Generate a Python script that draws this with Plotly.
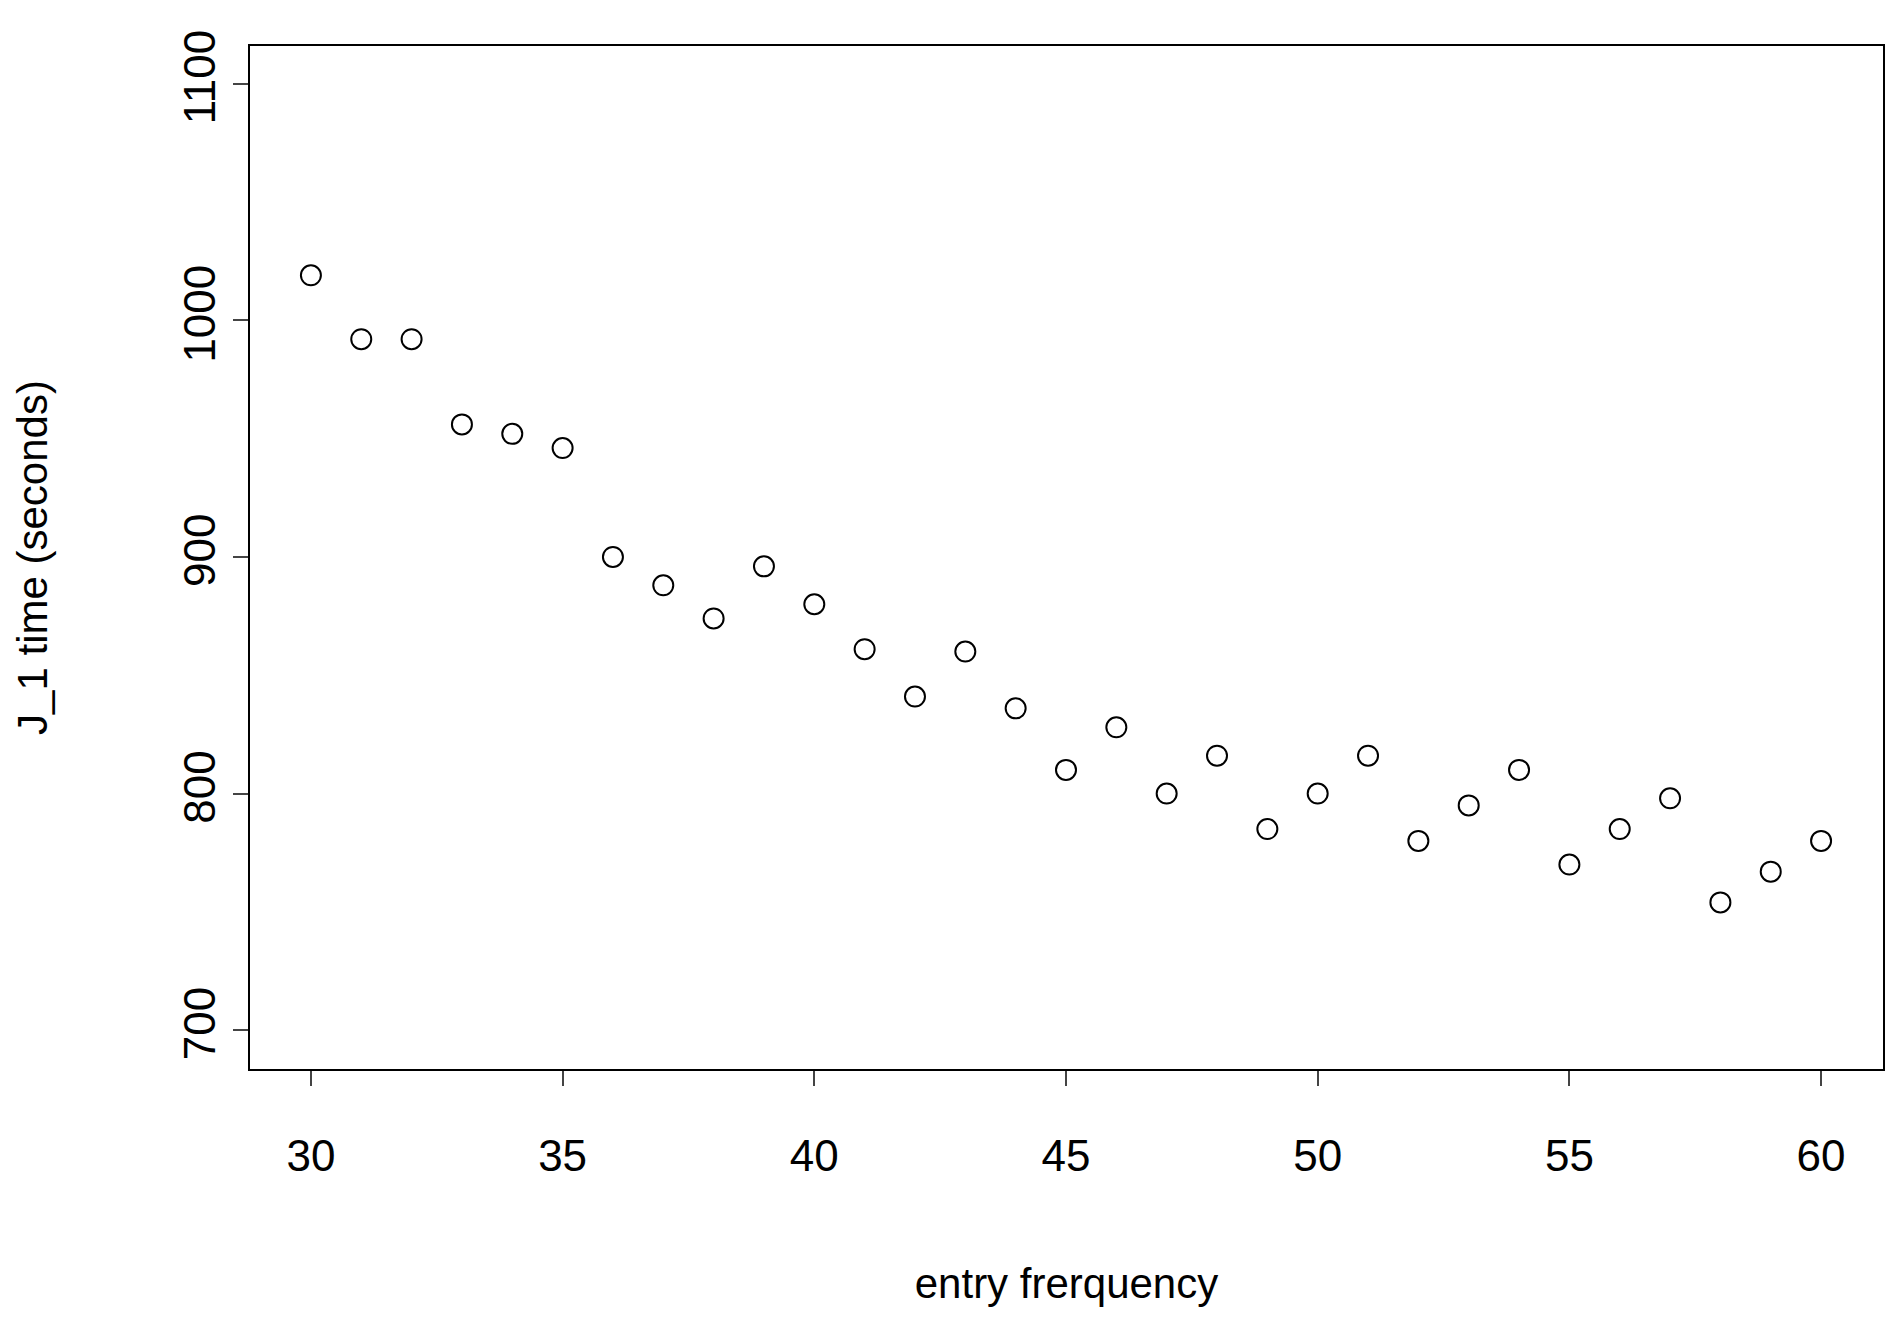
import plotly.graph_objects as go

# entry frequency vs J_1 time
freq = list(range(30, 61))
time_s = [1019, 992, 992, 956, 952, 946, 900, 888, 874, 896,
          880, 861, 841, 860, 836, 810, 828, 800, 816, 785,
          800, 816, 780, 795, 810, 770, 785, 798, 754, 767, 780]

x_ticks = [30, 35, 40, 45, 50, 55, 60]
y_ticks = [700, 800, 900, 1000, 1100]

fig = go.Figure()
fig.add_trace(go.Scatter(
    x=freq, y=time_s, mode='markers',
    marker=dict(symbol='circle-open', size=20, color='black', line=dict(width=2)),
    showlegend=False
))

fig.update_layout(
    width=1897, height=1326,
    plot_bgcolor='white', paper_bgcolor='white',
    margin=dict(l=242, r=22, t=38, b=265),
    font=dict(family='Liberation Sans, Arial', color='black'),
    xaxis=dict(
        range=[28.79, 61.23], tickvals=x_ticks, ticks='outside', ticklen=15,
        tickwidth=2, tickfont=dict(size=44), showgrid=False, zeroline=False,
        ticklabelstandoff=32,
        showline=True, mirror=True, linecolor='black', linewidth=2,
        title=dict(text='entry frerquency', font=dict(size=42), standoff=90)
    ),
    yaxis=dict(
        range=[683.6, 1115.9], tickvals=y_ticks, ticks='outside', ticklen=15,
        tickwidth=2, tickangle=-90, tickfont=dict(size=44), showgrid=False,
        zeroline=False, showline=True, mirror=True, linecolor='black', linewidth=2,
        title=dict(text='J_1 time (seconds)', font=dict(size=42), standoff=115)
    )
)

fig.write_html('out.html')
